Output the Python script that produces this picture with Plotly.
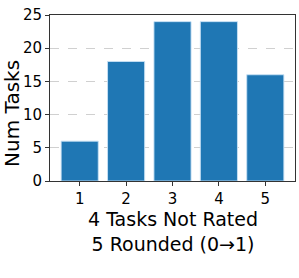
import plotly.graph_objects as go

categories = [1, 2, 3, 4, 5]
num_tasks = [6, 18, 24, 24, 16]
y_ticks = [0, 5, 10, 15, 20, 25]
x_title_lines = ["4 Tasks Not Rated", "5 Rounded (0→1)"]
y_title = "Num Tasks"

fig = go.Figure()
fig.add_trace(go.Bar(
    x=categories, y=num_tasks, width=0.8,
    marker=dict(color="#1f77b4", line=dict(color="rgba(200,225,245,0.9)", width=1)),
))

font = "DejaVu Sans"
fig.update_layout(
    width=299, height=278,
    margin=dict(l=50, r=4, t=14.5, b=97, autoexpand=False),
    plot_bgcolor="white", paper_bgcolor="white",
    showlegend=False,
    font=dict(family=font, size=15, color="black"),
)
fig.update_xaxes(
    range=[0.36, 5.64], tickvals=categories, ticks="outside", ticklen=4,
    tickcolor="#333", showline=True, linecolor="#333", linewidth=1, mirror=True,
    showgrid=False, zeroline=False, tickfont=dict(size=15), automargin=False,
)
fig.update_yaxes(
    range=[0, 25], tickvals=y_ticks, ticks="outside", ticklen=4,
    tickcolor="#333", showline=True, linecolor="#333", linewidth=1, mirror=True,
    showgrid=True, gridcolor="#d0d0d0", griddash="dash", gridwidth=1,
    zeroline=False, tickfont=dict(size=15), automargin=False,
)
fig.add_annotation(
    text="<br>".join(x_title_lines), xref="paper", yref="paper", x=0.5, y=0,
    yanchor="top", yshift=-25, showarrow=False, font=dict(size=19, family=font),
)
fig.add_annotation(
    text=y_title, xref="paper", yref="paper", x=0, y=0.5, xanchor="center",
    xshift=-38, yshift=-16, textangle=-90, showarrow=False,
    font=dict(size=20, family=font),
)
fig.write_html("out.html", config={"displayModeBar": False},
               post_script="document.body.style.margin='0';")
